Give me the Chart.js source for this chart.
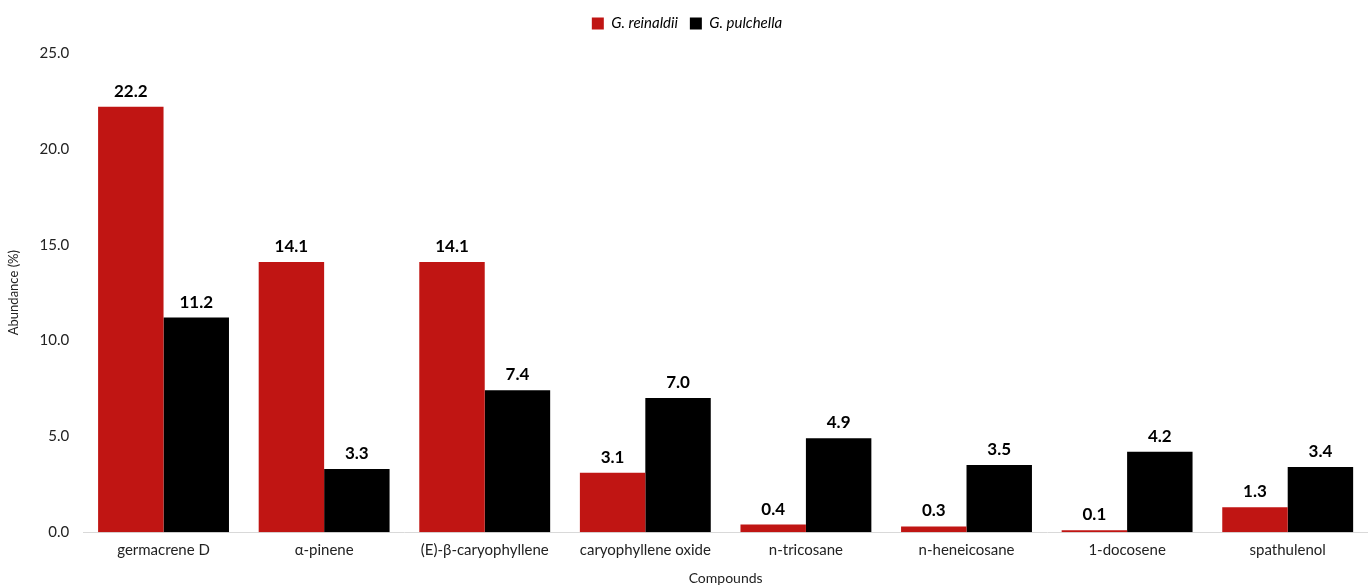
<!DOCTYPE html>
<html>
<head>
<meta charset="utf-8">
<script src="https://cdn.jsdelivr.net/npm/chart.js@4"></script>
<style>
  html, body { margin: 0; padding: 0; background: #fff; }
  #wrap { width: 1368px; height: 587px; }
</style>
</head>
<body>
<div id="wrap"><canvas id="myChart"></canvas></div>
<script>
"use strict"

// compounds on the x axis
const compounds = ['germacrene D', 'α-pinene', '(E)-β-caryophyllene', 'caryophyllene oxide',
    'n-tricosane', 'n-heneicosane', '1-docosene', 'spathulenol'];

// abundance (%) per species
const reinaldii = [22.2, 14.1, 14.1, 3.1, 0.4, 0.3, 0.1, 1.3];
const pulchella = [11.2, 3.3, 7.4, 7.0, 4.9, 3.5, 4.2, 3.4];

const FONT = 'Lato, "Open Sans", sans-serif';

// draws the value above each bar
const valueLabels = {
    id: 'valueLabels',
    afterDatasetsDraw(chart) {
        const ctx = chart.ctx;
        ctx.save();
        ctx.font = 'bold 17px ' + FONT;
        ctx.fillStyle = '#000';
        ctx.textAlign = 'center';
        ctx.textBaseline = 'bottom';
        chart.data.datasets.forEach((ds, i) => {
            chart.getDatasetMeta(i).data.forEach((bar, j) => {
                ctx.fillText(ds.data[j].toFixed(1), bar.x, bar.y - 7);
            });
        });
        ctx.restore();
    }
};

// extra room below the legend
const legendSpace = {
    id: 'legendSpace',
    beforeInit(chart) {
        const fit = chart.legend.fit;
        chart.legend.fit = function () {
            fit.bind(chart.legend)();
            this.height += 12;
        };
    }
};

const data = {
    labels: compounds,
    datasets: [{
        label: 'G. reinaldii',
        data: reinaldii,
        backgroundColor: '#c01513',
        categoryPercentage: 0.815,
        barPercentage: 1.0
    }, {
        label: 'G. pulchella',
        data: pulchella,
        backgroundColor: '#000000',
        categoryPercentage: 0.815,
        barPercentage: 1.0
    }]
};

const config = {
    type: 'bar',
    data: data,
    options: {
        responsive: true,
        maintainAspectRatio: false,
        animation: false,
        layout: { padding: { left: 6, right: 0, top: 4, bottom: 0 } },
        plugins: {
            legend: {
                position: 'top',
                labels: {
                    boxWidth: 12,
                    boxHeight: 12,
                    padding: 12,
                    color: '#000',
                    font: { family: FONT, size: 15, style: 'italic' }
                }
            },
            tooltip: { enabled: false }
        },
        scales: {
            x: {
                grid: { display: false, drawTicks: false },
                border: { color: '#d9d9d9', width: 1 },
                ticks: { color: '#222', padding: 9, font: { family: FONT, size: 15 } },
                title: { display: true, text: 'Compounds', color: '#222', padding: { top: 2, bottom: 0 },
                    font: { family: FONT, size: 14 } }
            },
            y: {
                min: 0,
                max: 25,
                grid: { display: false, drawTicks: false },
                border: { display: false },
                ticks: {
                    stepSize: 5,
                    color: '#222',
                    padding: 14,
                    font: { family: FONT, size: 15 },
                    callback: (v) => v.toFixed(1)
                },
                title: { display: true, text: 'Abundance (%)', color: '#222', padding: { top: 0, bottom: 4 },
                    font: { family: FONT, size: 13 } }
            }
        }
    },
    plugins: [valueLabels, legendSpace]
};

const myChart = new Chart(document.getElementById('myChart'), config);
</script>
</body>
</html>
